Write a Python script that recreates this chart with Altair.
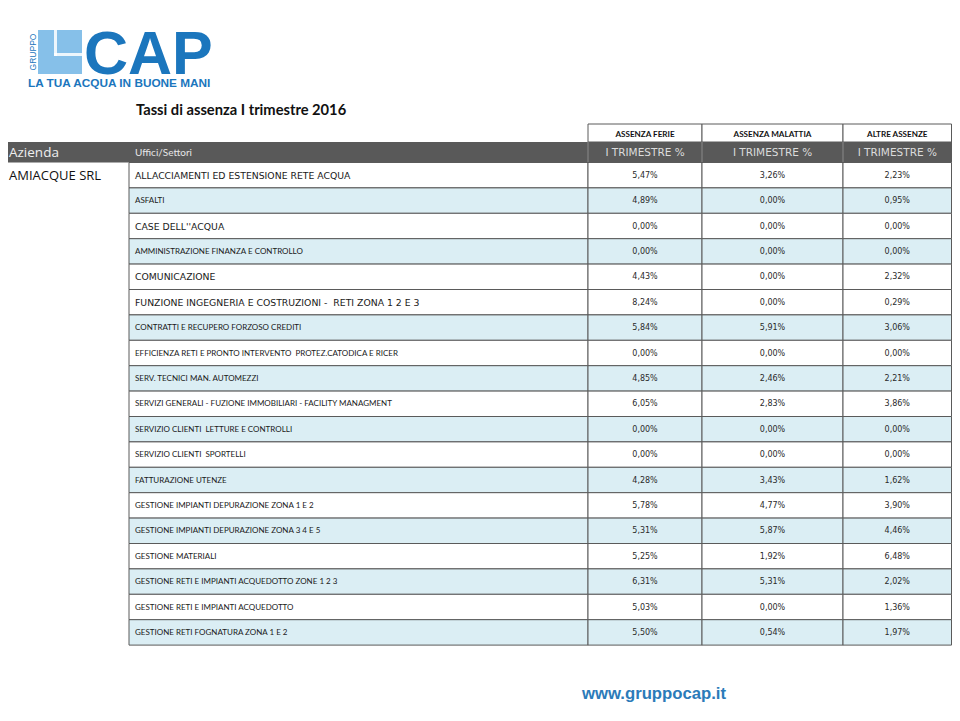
import altair as alt
import pandas as pd

# ---------------- data ----------------
azienda = "AMIACQUE SRL"
settori = [
    "ALLACCIAMENTI ED ESTENSIONE RETE ACQUA",
    "ASFALTI",
    "CASE DELL''ACQUA",
    "AMMINISTRAZIONE FINANZA E CONTROLLO",
    "COMUNICAZIONE",
    "FUNZIONE INGEGNERIA E COSTRUZIONI -  RETI ZONA 1 2 E 3",
    "CONTRATTI E RECUPERO FORZOSO CREDITI",
    "EFFICIENZA RETI E PRONTO INTERVENTO  PROTEZ.CATODICA E RICER",
    "SERV. TECNICI MAN. AUTOMEZZI",
    "SERVIZI GENERALI - FUZIONE IMMOBILIARI - FACILITY MANAGMENT",
    "SERVIZIO CLIENTI  LETTURE E CONTROLLI",
    "SERVIZIO CLIENTI  SPORTELLI",
    "FATTURAZIONE UTENZE",
    "GESTIONE IMPIANTI DEPURAZIONE ZONA 1 E 2",
    "GESTIONE IMPIANTI DEPURAZIONE ZONA 3 4 E 5",
    "GESTIONE MATERIALI",
    "GESTIONE RETI E IMPIANTI ACQUEDOTTO ZONE 1 2 3",
    "GESTIONE RETI E IMPIANTI ACQUEDOTTO",
    "GESTIONE RETI FOGNATURA ZONA 1 E 2",
]
ferie = [5.47, 4.89, 0.00, 0.00, 4.43, 8.24, 5.84, 0.00, 4.85, 6.05,
         0.00, 0.00, 4.28, 5.78, 5.31, 5.25, 6.31, 5.03, 5.50]
malattia = [3.26, 0.00, 0.00, 0.00, 0.00, 0.00, 5.91, 0.00, 2.46, 2.83,
            0.00, 0.00, 3.43, 4.77, 5.87, 1.92, 5.31, 0.00, 0.54]
altre = [2.23, 0.95, 0.00, 0.00, 2.32, 0.29, 3.06, 0.00, 2.21, 3.86,
         0.00, 0.00, 1.62, 3.90, 4.46, 6.48, 2.02, 1.36, 1.97]
gruppi = ["ASSENZA FERIE", "ASSENZA MALATTIA", "ALTRE ASSENZE"]
sub_header = "I TRIMESTRE %"
title = "Tassi di assenza I trimestre 2016"
row_shade = [0, 1, 0, 1, 0, 0, 1, 0, 1, 0, 1, 0, 1, 0, 1, 0, 1, 0, 1]
verdana_rows = [0, 2, 4, 5]

# ---------------- layout (pixel geometry) ----------------
W, H = 944, 705
xs = alt.Scale(domain=[8, 8 + W], nice=False, zero=False)
ys = alt.Scale(domain=[8, 8 + H], nice=False, zero=False, reverse=True)
col_edges = [129, 588, 702, 843, 951.5]
row_top, row_h = 162.5, 25.4
hdr_top = 142
up_top = 124

BLUE_ROW = "#dbeef4"
DARK = "#595959"
GRID = "#5a5a5a"


def fmt(v):
    return ("%.2f" % v).replace(".", ",") + "%"


def keep_spaces(s):
    return s.replace("  ", " \u00a0")


cells, texts_v, texts_c, vals = [], [], [], []
for i, name in enumerate(settori):
    y0 = row_top + i * row_h
    y1 = y0 + row_h
    fill = BLUE_ROW if row_shade[i] else "#ffffff"
    for c in range(4):
        cells.append(dict(x=col_edges[c], x2=col_edges[c + 1], y=y0, y2=y1, fill=fill))
    rec = dict(x=135, y=(y0 + y1) / 2 + 0.5, t=keep_spaces(name))
    (texts_v if i in verdana_rows else texts_c).append(rec)
    for c, series in enumerate([ferie, malattia, altre]):
        vals.append(dict(x=(col_edges[c + 1] + col_edges[c + 2]) / 2,
                         y=(y0 + y1) / 2 + 0.5, t=fmt(series[i])))

cells_df = pd.DataFrame(cells)
enc_rect = dict(
    x=alt.X("x:Q", scale=xs, axis=None), x2="x2:Q",
    y=alt.Y("y:Q", scale=ys, axis=None), y2="y2:Q",
)

body = alt.Chart(cells_df).mark_rect(stroke=GRID, strokeWidth=1).encode(
    fill=alt.Fill("fill:N", scale=None), **enc_rect)

# header bar
hdr_df = pd.DataFrame([dict(x=8, x2=952, y=hdr_top, y2=row_top)])
hdr = alt.Chart(hdr_df).mark_rect(fill=DARK).encode(**enc_rect)
hdr_sep_df = pd.DataFrame([dict(x=e, x2=e, y=hdr_top, y2=row_top) for e in col_edges[1:4]])
hdr_sep = alt.Chart(hdr_sep_df).mark_rule(color="#8a8a8a", strokeWidth=1).encode(**enc_rect)

# upper header boxes
up_df = pd.DataFrame([dict(x=col_edges[c + 1], x2=col_edges[c + 2], y=up_top, y2=hdr_top)
                      for c in range(3)])
up = alt.Chart(up_df).mark_rect(fill="white", stroke=GRID, strokeWidth=1).encode(**enc_rect)


def text_layer(df, font, size, color, align="left", weight="normal"):
    return alt.Chart(pd.DataFrame(df)).mark_text(
        font=font, fontSize=size, color=color, align=align, baseline="middle",
        fontWeight=weight,
    ).encode(x=alt.X("x:Q", scale=xs, axis=None),
             y=alt.Y("y:Q", scale=ys, axis=None), text="t:N")


t_verd = text_layer(texts_v, "DejaVu Sans", 9.3, "#1a1a1a")
t_cal = text_layer(texts_c, "Lato", 8.0, "#1a1a1a")
t_vals = text_layer(vals, "DejaVu Sans", 8, "#2a2a2a", align="center")

grp_txt = text_layer([dict(x=(col_edges[c + 1] + col_edges[c + 2]) / 2, y=134.5, t=g)
                      for c, g in enumerate(gruppi)], "Lato", 8.1, "#111", "center", "bold")
sub_txt = text_layer([dict(x=(col_edges[c + 1] + col_edges[c + 2]) / 2, y=152.5, t=sub_header)
                      for c in range(3)], "DejaVu Sans", 10.5, "#dcdcdc", "center")
az_txt = text_layer([dict(x=9, y=152.5, t="Azienda")], "Open Sans", 13.5, "#eeeeee")
uf_txt = text_layer([dict(x=135, y=152.5, t="Uffici/Settori")], "Lato", 10, "#e6e6e6")
am_txt = text_layer([dict(x=9, y=175.5, t=azienda)], "Open Sans", 13, "#111")
title_txt = text_layer([dict(x=136, y=110.5, t=title)], "Lato", 14.7, "#111", weight="bold")

# logo
LOGO_LIGHT = "#86c0e9"
LOGO_BLUE = "#1b76bd"
logo_sq = alt.Chart(pd.DataFrame([dict(x=38, x2=82, y=30, y2=74)])).mark_rect(
    fill=LOGO_LIGHT).encode(**enc_rect)
logo_cut = alt.Chart(pd.DataFrame([
    dict(x=54, x2=57, y=30, y2=56),
    dict(x=54, x2=82, y=53, y2=56),
])).mark_rect(fill="white", opacity=0.85).encode(**enc_rect)
cap_txt = alt.Chart(pd.DataFrame([dict(x=84, y=73.5, t="CAP")])).mark_text(
    font="Liberation Sans", fontSize=61, fontWeight="bold", color=LOGO_BLUE,
    align="left", baseline="alphabetic").encode(
    x=alt.X("x:Q", scale=xs, axis=None), y=alt.Y("y:Q", scale=ys, axis=None), text="t:N")
gruppo_txt = alt.Chart(pd.DataFrame([dict(x=32.5, y=52, t="GRUPPO")])).mark_text(
    font="Liberation Sans", fontSize=8.5, color=LOGO_BLUE, angle=270,
    align="center", baseline="middle").encode(
    x=alt.X("x:Q", scale=xs, axis=None), y=alt.Y("y:Q", scale=ys, axis=None), text="t:N")
motto_txt = text_layer([dict(x=28, y=83, t="LA TUA ACQUA IN BUONE MANI")],
                       "Liberation Sans", 11.8, LOGO_BLUE, weight="bold")
url_txt = text_layer([dict(x=582, y=693.5, t="www.gruppocap.it")],
                     "Liberation Sans", 16.7, "#2b7bb9", weight="bold")

chart = alt.layer(
    logo_sq, logo_cut, cap_txt, gruppo_txt, motto_txt, title_txt,
    up, hdr, hdr_sep, body,
    grp_txt, sub_txt, az_txt, uf_txt, am_txt,
    t_verd, t_cal, t_vals, url_txt,
).properties(
    width=W, height=H, padding=0, autosize="none",
).configure_view(stroke=None)

chart.save("out.html", embed_options={"renderer": "svg", "actions": False})
